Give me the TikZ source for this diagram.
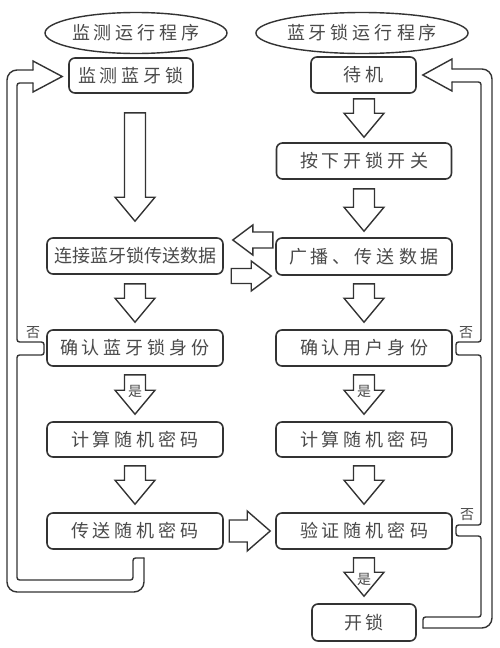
\documentclass[tikz,border=0pt]{standalone}
\usepackage{fontspec}
\newfontfamily\cjk{Noto Sans CJK SC}
\usetikzlibrary{shapes.geometric,calc}
\definecolor{linec}{HTML}{333333}
\definecolor{txtc}{HTML}{4A4A4A}
\def\spcaux#1{\ifx\relax#1\else#1\kern4pt\expandafter\spcaux\fi}
\newcommand\spc[1]{\spcaux#1\relax\kern-4pt}
\newcommand\blkdown[4]{%
  \coordinate (p) at ($(#2.north)+(0,-#4)$);
  \coordinate (t0) at ($(#1.south)+(0,#3)$);
  \coordinate (t) at (t0 -| p);
  \draw[blk] ($(t)+(-10.5,0)$) -- ($(p)+(-10.5,-24)$) -- ($(p)+(-20,-24)$) -- (p)
     -- ($(p)+(20,-24)$) -- ($(p)+(10.5,-24)$) -- ($(t)+(10.5,0)$) -- cycle;}
\begin{document}
\begin{tikzpicture}[x=1pt,y=-1pt,
  box/.style={draw=linec, line width=1.6pt, rounded corners=6pt, minimum width=176pt,
    minimum height=36pt, inner sep=0pt, text=txtc, font=\cjk\fontsize{18}{20}\selectfont},
  ell/.style={ellipse, draw=linec, line width=1.4pt, minimum width=182pt, minimum height=41pt,
    inner sep=0pt, text=txtc, font=\cjk\fontsize{18}{20}\selectfont},
  blk/.style={draw=linec, line width=1.4pt, line join=miter},
  pipe/.style={draw=linec, line width=1.4pt, line cap=round},
  lbl/.style={text=txtc, font=\cjk\fontsize{14}{16}\selectfont, inner sep=0pt}]
\fill[white] (0,0) rectangle (500,648);
\useasboundingbox (0,0) rectangle (500,648);

% titles
\node[ell] (E1) at (136,33) {\spc{监测运行程序}};
\node[ell] (E2) at (362,33) {\spc{蓝牙锁运行程序}};

% left column
\node[box, minimum width=124pt, minimum height=35pt] (L1) at (131,75.5) {\spc{监测蓝牙锁}};
\node[box] (L2) at (135,256) {连接蓝牙锁传送数据};
\node[box] (L3) at (135,348) {\spc{确认蓝牙锁身份}};
\node[box, minimum height=35pt] (L4) at (135,439.5) {\spc{计算随机密码}};
\node[box] (L5) at (135,531) {\spc{传送随机密码}};

% right column
\node[box, minimum width=105pt] (R1) at (363.5,75) {\spc{待机}};
\node[box, minimum width=175pt] (R2) at (364,161) {\spc{按下开锁开关}};
\node[box, minimum height=37pt] (R3) at (364,256.5) {\spc{广播、传送数据}};
\node[box] (R4) at (364,348) {\spc{确认用户身份}};
\node[box, minimum height=35pt] (R5) at (364,439.5) {\spc{计算随机密码}};
\node[box] (R6) at (364,531) {\spc{验证随机密码}};
\node[box, minimum width=104pt, minimum height=37pt] (R7) at (364,622.5) {\spc{开锁}};

% down block arrows
\blkdown{L1}{L2}{19}{16}
\blkdown{L2}{L3}{9}{7}
\blkdown{L3}{L4}{8}{7}
\blkdown{L4}{L5}{8}{8}
\blkdown{R1}{R2}{5}{5}
\blkdown{R2}{R3}{9}{6}
\blkdown{R3}{R4}{8}{7}
\blkdown{R4}{R5}{8}{7}
\blkdown{R5}{R6}{8}{8}
\blkdown{R6}{R7}{8}{7}

\node[lbl] (y1) at ($(L3.south)!0.46!(L4.north)$) {是};
\node[lbl] (y2) at ($(R4.south)!0.46!(R5.north)$) {是};
\node[lbl] (y3) at ($(R6.south)!0.56!(R7.north)$) {是};

% horizontal block arrows
\coordinate (a1) at ($(L2.east)+(9,-16)$);
\draw[blk] (a1) -- ++(20,-15) -- ++(0,7) -- ++(20,0) -- ++(0,16) -- ++(-20,0) -- ++(0,7) -- cycle;
\coordinate (a2) at ($(R3.west)+(-4,19.5)$);
\draw[blk] (a2) -- ++(-20,-15) -- ++(0,7.5) -- ++(-20,0) -- ++(0,15) -- ++(20,0) -- ++(0,7.5) -- cycle;
\coordinate (a3) at ($(R6.west)+(-5,0)$);
\draw[blk] (a3) -- ++(-23,-20) -- ++(0,9) -- ++(-18,0) -- ++(0,22) -- ++(18,0) -- ++(0,9) -- cycle;

% left feedback pipe
\draw[pipe, rounded corners=10pt] (144,558) -- (144,592) -- (7,592) -- (7,70) -- (33,70);
\draw[pipe, line join=miter] (33,70) -- (33,61) -- ($(L1.west)+(-6,1)$) -- (33,92) -- (33,83);
\draw[pipe, rounded corners=2.5pt] (33,83) -- (17,83) -- (17,342) -- (44,342) -- (44,355)
  -- (17,355) -- (17,580) -- (133,580) -- (133,558) -- (144,558);
\node[lbl] (n1) at (33,333) {否};

% right feedback pipe
\draw[pipe, rounded corners=10pt] (452,69) -- (492,69) -- (492,628) -- (423,628);
\draw[pipe, line join=miter] (452,69) -- (452,59) -- ($(R1.east)+(6,0)$) -- (452,91) -- (452,82);
\draw[pipe, rounded corners=2.5pt] (452,82) -- (481,82) -- (481,342) -- (456,342) -- (456,355)
  -- (481,355) -- (481,525) -- (456,525) -- (456,536) -- (481,536) -- (481,617)
  -- (423,617) -- (423,628);
\node[lbl] (n2) at (466,333) {否};
\node[lbl] (n3) at (467,515) {否};
\end{tikzpicture}
\end{document}
